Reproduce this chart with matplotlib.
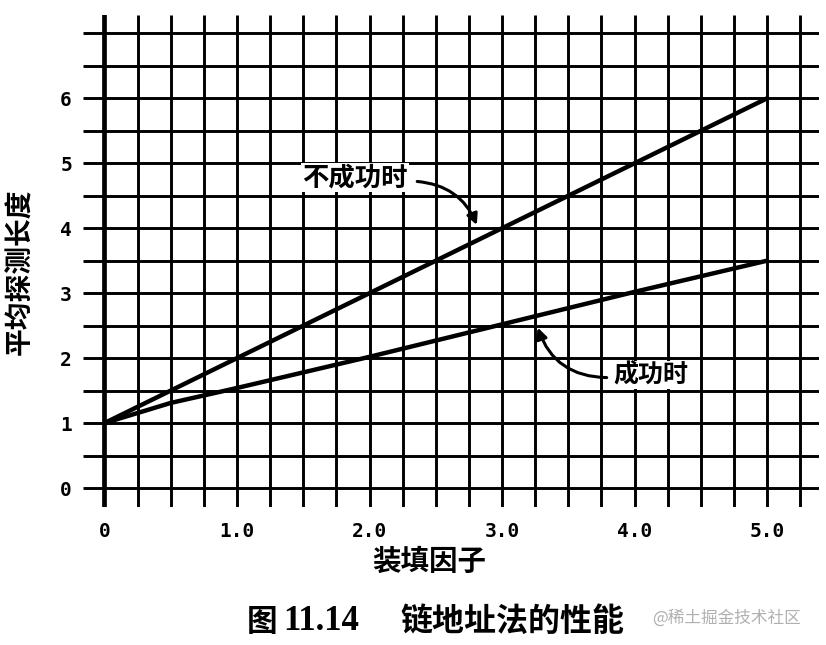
import numpy as np
import matplotlib.pyplot as plt

# load factor vs. average probe length
load = [0, 0.5, 1.0, 1.5, 2.0, 2.5, 3.0, 3.5, 4.0, 4.5, 5.0]
unsuccessful = [1.0, 1.5, 2.0, 2.5, 3.0, 3.5, 4.0, 4.5, 5.0, 5.5, 6.0]
successful = [1.0, 1.31, 1.54, 1.78, 2.02, 2.27, 2.52, 2.77, 3.02, 3.26, 3.5]

xticks = [0, 1, 2, 3, 4, 5]
xticklabels = ["0", "1.0", "2.0", "3.0", "4.0", "5.0"]
yticks = [0, 1, 2, 3, 4, 5, 6]
xgrid = np.arange(0, 5.26, 0.25)
ygrid = np.arange(0, 7.01, 0.5)

W, H = 826, 645
cjk = ["Noto Sans CJK SC", "DejaVu Sans"]


def fx(px):
    return px / W


def fy(py):
    return 1 - py / H


fig = plt.figure(figsize=(W / 100, H / 100), dpi=100)
ax = fig.add_axes([fx(83), fy(507), (819 - 83) / W, (507 - 15) / H])
ax.set_xlim(-0.162, 5.392)
ax.set_ylim(-0.2925, 7.283)

# grid of the chart paper
ax.vlines(xgrid, 0, 1, transform=ax.get_xaxis_transform(), color="black", lw=2.1)
ax.hlines(ygrid, 0, 1, transform=ax.get_yaxis_transform(), color="black", lw=2.1)
ax.axvline(0, color="black", lw=3.4)
ax.tick_params(which="both", length=0)
for s in ax.spines.values():
    s.set_visible(False)

ax.set_xticks(xticks, xticklabels)
ax.set_yticks(yticks, [str(v) for v in yticks])
ax.tick_params(axis="x", pad=11)
ax.tick_params(axis="y", pad=8)
for lab in ax.get_xticklabels() + ax.get_yticklabels():
    lab.set_family("DejaVu Sans Mono")
    lab.set_weight("bold")
    lab.set_fontsize(14)

ax.plot(load, unsuccessful, color="black", lw=3.2, solid_capstyle="round", zorder=3)
ax.plot(load, successful, color="black", lw=3.2, solid_capstyle="round", zorder=3)

# labels on the curves
ax.text(1.89, 4.78, "不成功时", family=cjk, fontsize=19, weight="bold",
        ha="center", va="center", zorder=4,
        bbox=dict(fc="white", ec="none", pad=1))
ax.annotate("", xy=(2.81, 4.05), xytext=(2.36, 4.72), zorder=4,
            arrowprops=dict(arrowstyle="-|>", color="black", lw=2.2,
                            mutation_scale=16, shrinkA=0, shrinkB=0,
                            connectionstyle="arc3,rad=-0.3"))
ax.text(4.12, 1.74, "成功时", family=cjk, fontsize=18, weight="bold",
        ha="center", va="center", zorder=4,
        bbox=dict(fc="white", ec="none", pad=1))
ax.annotate("", xy=(3.27, 2.47), xytext=(3.79, 1.70), zorder=4,
            arrowprops=dict(arrowstyle="-|>", color="black", lw=2.2,
                            mutation_scale=16, shrinkA=0, shrinkB=0,
                            connectionstyle="arc3,rad=-0.35"))

fig.text(fx(20), fy(272), "平均探测长度", family=cjk, fontsize=20, weight="bold",
         rotation=90, ha="center", va="center")
fig.text(fx(429), fy(562), "装填因子", family=cjk, fontsize=20.5, weight="bold",
         ha="center", va="center")

# caption under the figure
fig.text(fx(247), fy(622), "图", family=cjk, fontsize=22, weight="bold",
         ha="left", va="center")
fig.text(fx(283), fy(622), "11.14", family=["Liberation Serif", "DejaVu Serif"],
         fontsize=25, weight="bold", ha="left", va="center")
fig.text(fx(400), fy(622), "链地址法的性能", family=cjk, fontsize=23, weight="bold",
         ha="left", va="center")
fig.text(fx(652), fy(618), "@稀土掘金技术社区", family=cjk, fontsize=12,
         color="#b0b0b0", ha="left", va="center")

fig.savefig("out.png", dpi=100)
